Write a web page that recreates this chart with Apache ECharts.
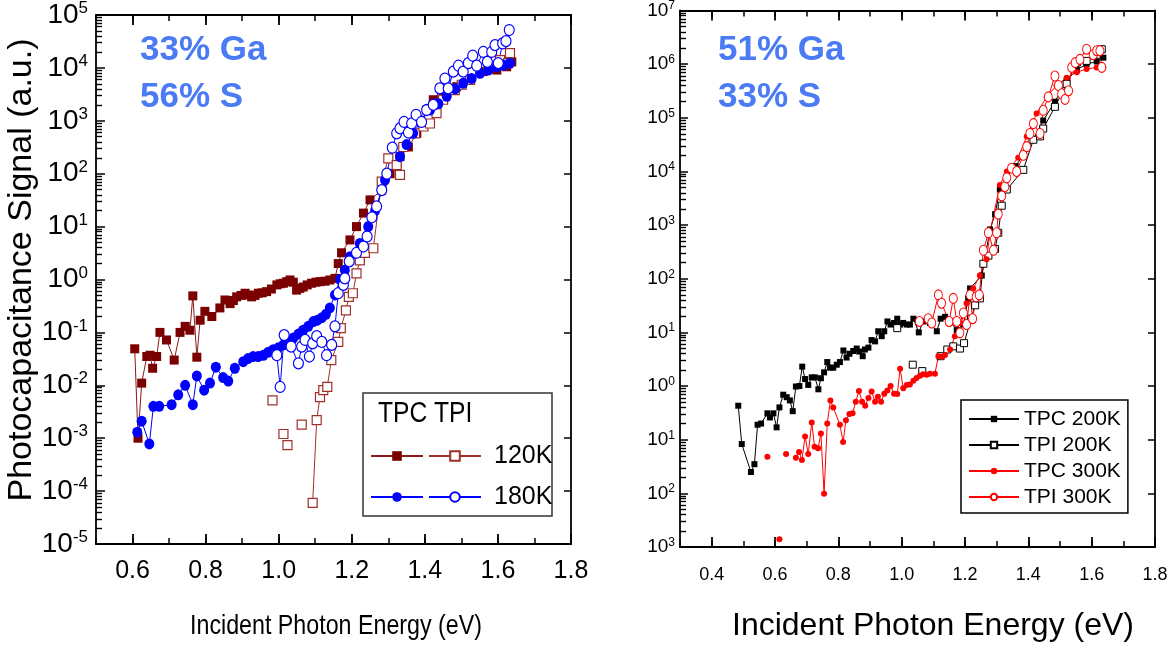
<!DOCTYPE html>
<html><head><meta charset="utf-8">
<script src="https://cdn.jsdelivr.net/npm/echarts@6.0.0/dist/echarts.min.js"></script>
<style>html,body{margin:0;padding:0;background:#fff}#c{width:1175px;height:649px}</style>
</head><body><div id="c"></div>
<script>
// ---------- Left panel (33% Ga, 56% S) ----------
const tpc120E = [0.606,0.615,0.625,0.639,0.648,0.655,0.666,0.675,0.693,0.714,0.730,0.744,0.757,0.765,0.776,0.785,0.798,0.817,0.839,0.853,0.867,0.876,0.885,0.897,0.908,0.917,0.926,0.935,0.944,0.955,0.967,0.980,0.995,1.004,1.013,1.022,1.031,1.040,1.049,1.058,1.067,1.078,1.090,1.102,1.113,1.127,1.140,1.154,1.163,1.172,1.195,1.213,1.232,1.250,1.282,1.305,1.332,1.355,1.378,1.405,1.423,1.450,1.487,1.524,1.560,1.597,1.624,1.638];
const tpc120V = [0.049,0.0010,0.011,0.035,0.037,0.021,0.035,0.10,0.072,0.030,0.10,0.13,0.11,0.49,0.034,0.17,0.25,0.20,0.29,0.41,0.35,0.40,0.47,0.50,0.55,0.51,0.47,0.50,0.55,0.56,0.59,0.66,0.79,0.83,0.85,0.91,0.98,0.89,0.63,0.68,0.72,0.79,0.85,0.89,0.91,0.93,0.98,1.05,2.0,3.2,5.6,10,18,32,49,100,210,320,580,1600,2500,3300,4400,6300,8500,9100,10500,13000];

const tpi120E = [0.983,1.013,1.024,1.063,1.093,1.104,1.113,1.122,1.133,1.144,1.163,1.170,1.184,1.192,1.203,1.213,1.222,1.236,1.259,1.282,1.300,1.323,1.332,1.341,1.373,1.396,1.414,1.432,1.450,1.482,1.501,1.524,1.574,1.606,1.628,1.633];
const tpi120V = [0.0052,0.0012,0.00074,0.0018,0.00006,0.0022,0.006,0.0081,0.0093,0.030,0.066,0.12,0.26,0.47,0.55,1.3,2.3,3.2,3.9,71,195,145,95,320,580,780,890,1400,2500,3800,4800,5900,10500,14000,12300,19000];
const tpi120Breaks = [0,1,2,3];

const tpc180E = [0.613,0.625,0.646,0.657,0.673,0.707,0.725,0.744,0.765,0.776,0.796,0.812,0.828,0.848,0.862,0.880,0.903,0.916,0.930,0.944,0.958,0.971,0.985,0.999,1.013,1.027,1.040,1.054,1.067,1.081,1.095,1.106,1.118,1.129,1.140,1.154,1.168,1.181,1.195,1.222,1.245,1.264,1.291,1.332,1.350,1.368,1.390,1.414,1.437,1.460,1.483,1.505,1.528,1.551,1.574,1.597,1.615,1.633];
const tpc180V = [0.0013,0.0021,0.00078,0.0040,0.0040,0.0043,0.0066,0.010,0.0043,0.015,0.0081,0.011,0.022,0.014,0.012,0.021,0.028,0.032,0.035,0.035,0.037,0.042,0.047,0.051,0.058,0.066,0.078,0.093,0.11,0.13,0.16,0.17,0.19,0.22,0.29,0.51,1.0,1.5,2.7,4.8,10,20,76,210,355,580,1000,1600,2100,2900,4000,5100,6300,7900,9100,10500,11200,12300];

const tpi180E = [0.995,1.004,1.015,1.034,1.054,1.063,1.072,1.084,1.093,1.104,1.118,1.131,1.145,1.154,1.163,1.177,1.181,1.193,1.213,1.232,1.242,1.255,1.268,1.282,1.296,1.311,1.323,1.332,1.343,1.355,1.364,1.376,1.391,1.405,1.423,1.441,1.455,1.464,1.478,1.492,1.505,1.519,1.531,1.542,1.560,1.571,1.583,1.592,1.601,1.613,1.622,1.631];
const tpi180V = [0.037,0.0093,0.089,0.054,0.026,0.054,0.072,0.035,0.062,0.085,0.066,0.037,0.058,0.13,0.55,0.79,1.05,2.2,3.2,4.2,6.5,15,24,49,100,310,580,720,950,600,890,1300,950,1600,2000,4100,6300,4100,8500,11000,8500,12300,17000,11000,20000,13000,20000,27000,12300,29000,32000,52000];

// ---------- Right panel (51% Ga, 33% S) ----------
const tpc200E = [0.484,0.495,0.524,0.535,0.545,0.556,0.576,0.584,0.595,0.605,0.614,0.626,0.637,0.647,0.656,0.666,0.677,0.686,0.695,0.705,0.716,0.726,0.737,0.745,0.755,0.765,0.774,0.784,0.795,0.805,0.816,0.826,0.835,0.847,0.858,0.866,0.877,0.884,0.895,0.905,0.916,0.926,0.937,0.945,0.955,0.965,0.976,0.986,0.995,1.005,1.016,1.026,1.037,1.054,1.068,1.089,1.111,1.123,1.137,1.153,1.174,1.195,1.210,1.216,1.253,1.279,1.295,1.310,1.332,1.360,1.384,1.416,1.447,1.484,1.521,1.553,1.584,1.616,1.637];
const tpc200V = [0.43,0.083,0.025,0.035,0.19,0.20,0.31,0.26,0.31,0.17,0.40,0.69,0.62,0.54,0.34,0.98,1.0,2.3,1.35,1.05,1.45,1.45,0.87,1.4,1.8,2.8,2.2,2.2,2.5,2.8,4.6,3.4,4.0,4.5,5.0,4.4,3.6,4.8,5.2,7.2,6.8,10.5,8.5,10.5,16,14,15,18,14,15,14,14,18,10,16,15,10.5,18,19.5,16,11,14,43,66,115,830,1600,4600,7900,12600,20000,40000,89000,200000,490000,790000,1000000,1120000,1320000];

const tpi200E = [0.986,1.035,1.065,1.123,1.144,1.163,1.184,1.197,1.219,1.232,1.247,1.258,1.274,1.295,1.305,1.316,1.332,1.384,1.416,1.437,1.447,1.484,1.521,1.553,1.584,1.616,1.632];
const tpi200V = [12,2.5,1.9,3.6,4.8,5.5,5.0,6.3,18,32,43,190,270,360,720,2300,4600,10700,39000,45000,63000,160000,430000,1070000,1150000,1500000,1900000];
const tpi200Breaks = [0,1,2];

const tpc300E = [0.576,0.614,0.635,0.666,0.676,0.685,0.695,0.705,0.716,0.725,0.736,0.745,0.755,0.765,0.775,0.784,0.805,0.815,0.824,0.835,0.845,0.855,0.865,0.875,0.885,0.895,0.905,0.916,0.925,0.935,0.945,0.955,0.965,0.976,0.986,0.995,1.005,1.016,1.026,1.037,1.047,1.058,1.068,1.079,1.089,1.105,1.116,1.126,1.137,1.153,1.168,1.184,1.205,1.226,1.247,1.268,1.279,1.310,1.332,1.368,1.395,1.426,1.458,1.489,1.521,1.553,1.584,1.616,1.637];
const tpc300V = [0.048,0.0014,0.054,0.046,0.059,0.042,0.115,0.054,0.21,0.074,0.069,0.13,0.0098,0.20,0.54,0.40,0.19,0.091,0.23,0.30,0.31,0.51,0.81,0.51,0.43,0.60,0.79,0.51,0.63,0.51,0.72,0.83,1.0,0.72,0.71,2.1,0.91,1.05,1.07,1.26,1.41,1.55,1.66,1.62,1.70,1.70,3.6,3.5,3.8,4.8,8.5,15,35,66,115,230,720,5600,10000,18000,45000,120000,245000,400000,560000,710000,810000,870000,870000];
const tpc300Breaks = [0,1,2];

const tpi300E = [1.056,1.084,1.095,1.116,1.126,1.150,1.163,1.174,1.184,1.195,1.205,1.216,1.224,1.235,1.245,1.258,1.274,1.290,1.300,1.305,1.316,1.326,1.332,1.347,1.363,1.384,1.395,1.405,1.416,1.437,1.447,1.463,1.484,1.495,1.505,1.516,1.527,1.537,1.548,1.563,1.584,1.605,1.616,1.626,1.632];
const tpi300V = [16,18,15,50,35,16,43,16,9.8,23,14,50,18,46,50,340,720,340,720,1600,3500,5200,7600,11500,10000,20000,29000,51000,78000,51000,138000,245000,600000,400000,280000,220000,320000,870000,1070000,1230000,1900000,1500000,1780000,1780000,870000];

// ---------- Text ----------
const leftNotes = ['33% Ga', '56% S'];
const rightNotes = ['51% Ga', '33% S'];
const yTitle = 'Photocapacitance Signal (a.u.)';
const xTitle = 'Incident Photon Energy (eV)';

const SANS = '"Liberation Sans", Arial, Helvetica, sans-serif';
const NOTE_BLUE = '#4A7BF5';

function build(E, V, breaks) {
  const out = [];
  E.forEach((e, i) => {
    out.push([e, V[i]]);
    if (breaks && breaks.indexOf(i) >= 0) out.push(['-', '-']);
  });
  return out;
}
function fmtX(v) {
  const t = Math.round(v * 10);
  return t % 2 === 0 ? (t / 10).toFixed(1) : '';
}
function fmtLogSigned(v) {
  const e = Math.round(Math.log10(v));
  return '{b|10}{s|' + e + '}';
}
function fmtLogAbs(v) {
  const e = Math.round(Math.log10(v));
  return '{b|10}{s|' + Math.abs(e) + '}';
}
function logMinorValues(lo, hi) {
  const out = [];
  for (let d = lo; d < hi; d++) for (let k = 2; k <= 9; k++) out.push(+(k * Math.pow(10, d)).toPrecision(3));
  return out;
}
function evenTenths(xMin, xMax) {
  const out = [];
  for (let t = Math.ceil(xMin * 5 - 1e-9); t <= Math.floor(xMax * 5 + 1e-9); t++) out.push(+(t / 5).toFixed(1));
  return out;
}
function lineStyleObj() { return { show: true, onZero: false, lineStyle: { color: '#000', width: 1.8 } }; }
function xAx(grid, min, max, pos, show, size, margin) {
  return {
    gridIndex: grid, type: 'value', min: min, max: max, interval: 0.1, position: pos,
    axisLine: lineStyleObj(),
    axisTick: { show: true, inside: true, length: 6, lineStyle: { color: '#000', width: 1.5 } },
    axisLabel: { show: show, formatter: fmtX, fontSize: size, fontFamily: SANS, color: '#000', margin: margin },
    splitLine: { show: false }
  };
}
function xLong(grid, min, max, pos) {
  return {
    gridIndex: grid, type: 'value', min: min, max: max, interval: 0.1, position: pos,
    axisLine: { show: false, onZero: false },
    axisTick: { show: true, inside: true, length: 10, customValues: evenTenths(min, max), lineStyle: { color: '#000', width: 1.8 } },
    axisLabel: { show: false }, splitLine: { show: false }
  };
}
function yAx(grid, min, max, pos, show, fmt, bSize, sSize, margin, tickLen) {
  return {
    gridIndex: grid, type: 'log', logBase: 10, min: min, max: max, interval: 1, splitNumber: 10, position: pos,
    axisLine: lineStyleObj(),
    axisTick: { show: true, inside: true, length: tickLen, lineStyle: { color: '#000', width: 1.5 } },
    axisLabel: {
      show: show, formatter: fmt, margin: margin, showMinLabel: true, showMaxLabel: true,
      rich: {
        b: { fontSize: bSize, fontFamily: SANS, color: '#000', lineHeight: bSize + 2 },
        s: { fontSize: sSize, fontFamily: SANS, color: '#000', lineHeight: sSize, verticalAlign: 'top' }
      }
    },
    splitLine: { show: false }, minorTick: { show: false }
  };
}
function yMinor(grid, min, max, lo, hi) {
  return {
    gridIndex: grid, type: 'log', logBase: 10, min: min, max: max, interval: 1, position: 'left',
    axisLine: { show: false, onZero: false },
    axisTick: { show: true, inside: true, length: 6, customValues: logMinorValues(lo, hi), lineStyle: { color: '#000', width: 1.4 } },
    axisLabel: { show: false }, splitLine: { show: false }
  };
}
function ser(name, E, V, breaks, xi, yi, symbol, size, fill, stroke, bw) {
  return {
    name: name, type: 'line', xAxisIndex: xi, yAxisIndex: yi, data: build(E, V, breaks),
    symbol: symbol, symbolSize: size, showSymbol: true, connectNulls: false,
    itemStyle: { color: fill, borderColor: stroke, borderWidth: bw },
    lineStyle: { color: stroke, width: 1 },
    emphasis: { disabled: true }, silent: true, animation: false
  };
}

const chart = echarts.init(document.getElementById('c'));
const option = {
  animation: false,
  backgroundColor: '#fff',
  grid: [
    { left: 96, top: 15, right: 1175 - 571, bottom: 649 - 544, containLabel: false },
    { left: 680, top: 6, right: 1175 - 1155, bottom: 649 - 547, containLabel: false }
  ],
  xAxis: [
    xAx(0, 0.5, 1.8, 'bottom', true, 25, 15),
    xAx(0, 0.5, 1.8, 'top', false, 25, 15),
    xAx(1, 0.3, 1.8, 'bottom', true, 18, 19),
    xAx(1, 0.3, 1.8, 'top', false, 18, 19),
    xLong(0, 0.5, 1.8, 'bottom'),
    xLong(0, 0.5, 1.8, 'top'),
    xLong(1, 0.3, 1.8, 'bottom'),
    xLong(1, 0.3, 1.8, 'top')
  ],
  yAxis: [
    yAx(0, 1e-5, 1e5, 'left', true, fmtLogSigned, 28, 17, 8, 9),
    yAx(0, 1e-5, 1e5, 'right', false, fmtLogSigned, 28, 17, 8, 7),
    yAx(1, 1e-3, 1e7, 'left', true, fmtLogAbs, 19, 12, 5, 8),
    yAx(1, 1e-3, 1e7, 'right', false, fmtLogAbs, 19, 12, 5, 7),
    yMinor(0, 1e-5, 1e5, -5, 5),
    yMinor(1, 1e-3, 1e7, -3, 7)
  ],
  legend: [
    { data: ['TPC 120K', 'TPC 180K'], orient: 'vertical', left: 370, top: 441, itemWidth: 52, itemHeight: 12, itemGap: 11,
      formatter: function () { return ' '; }, selectedMode: false, padding: 0,
      textStyle: { fontSize: 25, lineHeight: 30, fontFamily: SANS, color: '#000' } },
    { data: ['TPI 120K', 'TPI 180K'], orient: 'vertical', left: 428, top: 441, itemWidth: 52, itemHeight: 12, itemGap: 11,
      formatter: function (n) { return n.split(' ')[1]; }, selectedMode: false, padding: 0,
      textStyle: { fontSize: 25, lineHeight: 30, fontFamily: SANS, color: '#000', padding: [0, 0, 0, 8] } },
    { data: ['TPC 200K', 'TPI 200K', 'TPC 300K', 'TPI 300K'], orient: 'vertical', left: 961, top: 400,
      itemWidth: 50, itemHeight: 8, itemGap: 4, selectedMode: false, backgroundColor: '#fff',
      borderColor: '#000', borderWidth: 1.5, borderRadius: 0, padding: [8, 7, 5, 7],
      textStyle: { fontSize: 21, lineHeight: 22, fontFamily: SANS, color: '#000' } }
  ],
  series: [
    ser('TPC 120K', tpc120E, tpc120V, null, 0, 0, 'rect', 9, '#7B0000', '#8B1A1A', 0),
    ser('TPI 120K', tpi120E, tpi120V, tpi120Breaks, 0, 0, 'rect', 9, '#fff', '#A0302A', 1.2),
    ser('TPC 180K', tpc180E, tpc180V, null, 0, 0, 'circle', [10, 11], '#0000FF', '#0000FF', 0),
    ser('TPI 180K', tpi180E, tpi180V, null, 0, 0, 'circle', [10, 11], '#fff', '#0000FF', 1.2),
    ser('TPC 200K', tpc200E, tpc200V, null, 2, 2, 'rect', 6, '#000', '#000', 0),
    ser('TPI 200K', tpi200E, tpi200V, tpi200Breaks, 2, 2, 'rect', 7, '#fff', '#000', 1),
    ser('TPC 300K', tpc300E, tpc300V, tpc300Breaks, 2, 2, 'circle', 6, '#FF0000', '#FF0000', 0),
    ser('TPI 300K', tpi300E, tpi300V, null, 2, 2, 'circle', [8, 10], '#fff', '#FF0000', 1)
  ],
  graphic: []
};

const g = option.graphic;
function note(x, y, t) {
  g.push({ type: 'text', x: x, y: y, z: 10, style: { text: t, fontSize: 35, fontWeight: 'bold', fontFamily: SANS, fill: NOTE_BLUE, verticalAlign: 'middle' } });
}
note(140, 50, leftNotes[0]); note(140, 97, leftNotes[1]);
note(718, 50, rightNotes[0]); note(718, 97, rightNotes[1]);
g.push({ type: 'text', x: 22, y: 270, rotation: Math.PI / 2, z: 10, style: { text: yTitle, fontSize: 34, fontFamily: SANS, fill: '#000', align: 'center', verticalAlign: 'middle' } });
g.push({ type: 'text', x: 336, y: 626, scaleX: 0.83, z: 10, style: { text: xTitle, fontSize: 28, fontFamily: SANS, fill: '#000', align: 'center', verticalAlign: 'middle' } });
g.push({ type: 'text', x: 933, y: 626, z: 10, style: { text: xTitle, fontSize: 32, fontFamily: SANS, fill: '#000', align: 'center', verticalAlign: 'middle' } });
g.push({ type: 'rect', z: 3, shape: { x: 363, y: 393, width: 189, height: 123 }, style: { fill: '#fff', stroke: '#333', lineWidth: 1.5 } });
g.push({ type: 'text', x: 378, y: 414, scaleX: 0.82, z: 10, style: { text: 'TPC TPI', fontSize: 30, fontFamily: SANS, fill: '#000', verticalAlign: 'middle' } });

chart.setOption(option);
</script>
</body></html>
